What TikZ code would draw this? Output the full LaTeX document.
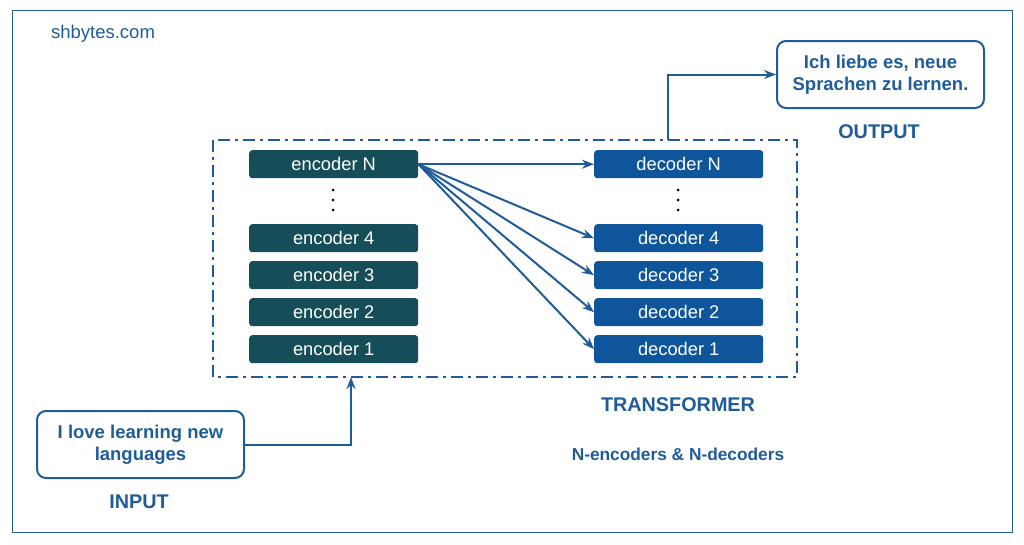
\documentclass[tikz,border=0pt]{standalone}
\usepackage{fontspec}
\setmainfont{Liberation Sans}
\usetikzlibrary{arrows.meta}
\definecolor{bl}{HTML}{1F5C99}
\definecolor{enc}{HTML}{154E58}
\definecolor{dec}{HTML}{0E559B}
\begin{document}
\begin{tikzpicture}[x=1pt,y=-1pt,
 enc/.style={draw=none,fill=enc,rounded corners=3pt,minimum width=169pt,minimum height=28pt,text=white,font=\fontsize{18.3}{20}\selectfont,anchor=north west},
 dec/.style={enc,fill=dec},
 lbl/.style={text=bl,font=\bfseries\fontsize{19.8}{22}\selectfont},
 tbox/.style={draw=bl,line width=2pt,rounded corners=9pt,minimum width=207pt,minimum height=67pt,text=bl,align=center,font=\bfseries\fontsize{18.5}{22}\selectfont,anchor=north west},
 arr/.style={draw=bl,line width=2pt,-{Stealth[length=12pt,width=9pt]}}]
\useasboundingbox (0,0) rectangle (1024,544);
\draw[bl,line width=1pt] (12,10) rectangle (1012,532);
\node[text=bl,font=\fontsize{18.5}{20}\selectfont] (site) at (103,34) {shbytes.com};
\draw[bl,line width=2pt,dash pattern=on 12pt off 5pt on 3pt off 5pt] (213,140) rectangle (797,377);
\node[enc] (eN) at (249,150) {encoder N};
\node[enc] (e4) at (249,224) {encoder 4};
\node[enc] (e3) at (249,261) {encoder 3};
\node[enc] (e2) at (249,298) {encoder 2};
\node[enc] (e1) at (249,335) {encoder 1};
\node[dec] (dN) at (594,150) {decoder N};
\node[dec] (d4) at (594,224) {decoder 4};
\node[dec] (d3) at (594,261) {decoder 3};
\node[dec] (d2) at (594,298) {decoder 2};
\node[dec] (d1) at (594,335) {decoder 1};
\foreach \x/\n in {333/a,678/b}{\foreach \y in {190,200,210}{\fill (\x,\y) circle (1.5pt);}}
\foreach \d in {dN,d4,d3,d2,d1}{\draw[arr] (eN.east) -- (\d.west);}
\node[tbox] (out) at (776,40) {Ich liebe es, neue\\Sprachen zu lernen.};
\node[lbl] (outl) at (879,132) {OUTPUT};
\coordinate (tt) at (668,140);
\draw[arr] (tt) |- (out.west);
\node[tbox] (in) at (36,410) {I love learning new\\languages};
\node[lbl] (inl) at (139,502) {INPUT};
\coordinate (tb) at (351,377);
\draw[arr] (in.east) -| (tb);
\node[lbl] (tr) at (678,405) {TRANSFORMER};
\node[text=bl,font=\bfseries\fontsize{17.3}{19}\selectfont] (nn) at (678,454) {N-encoders \& N-decoders};
\end{tikzpicture}
\end{document}
